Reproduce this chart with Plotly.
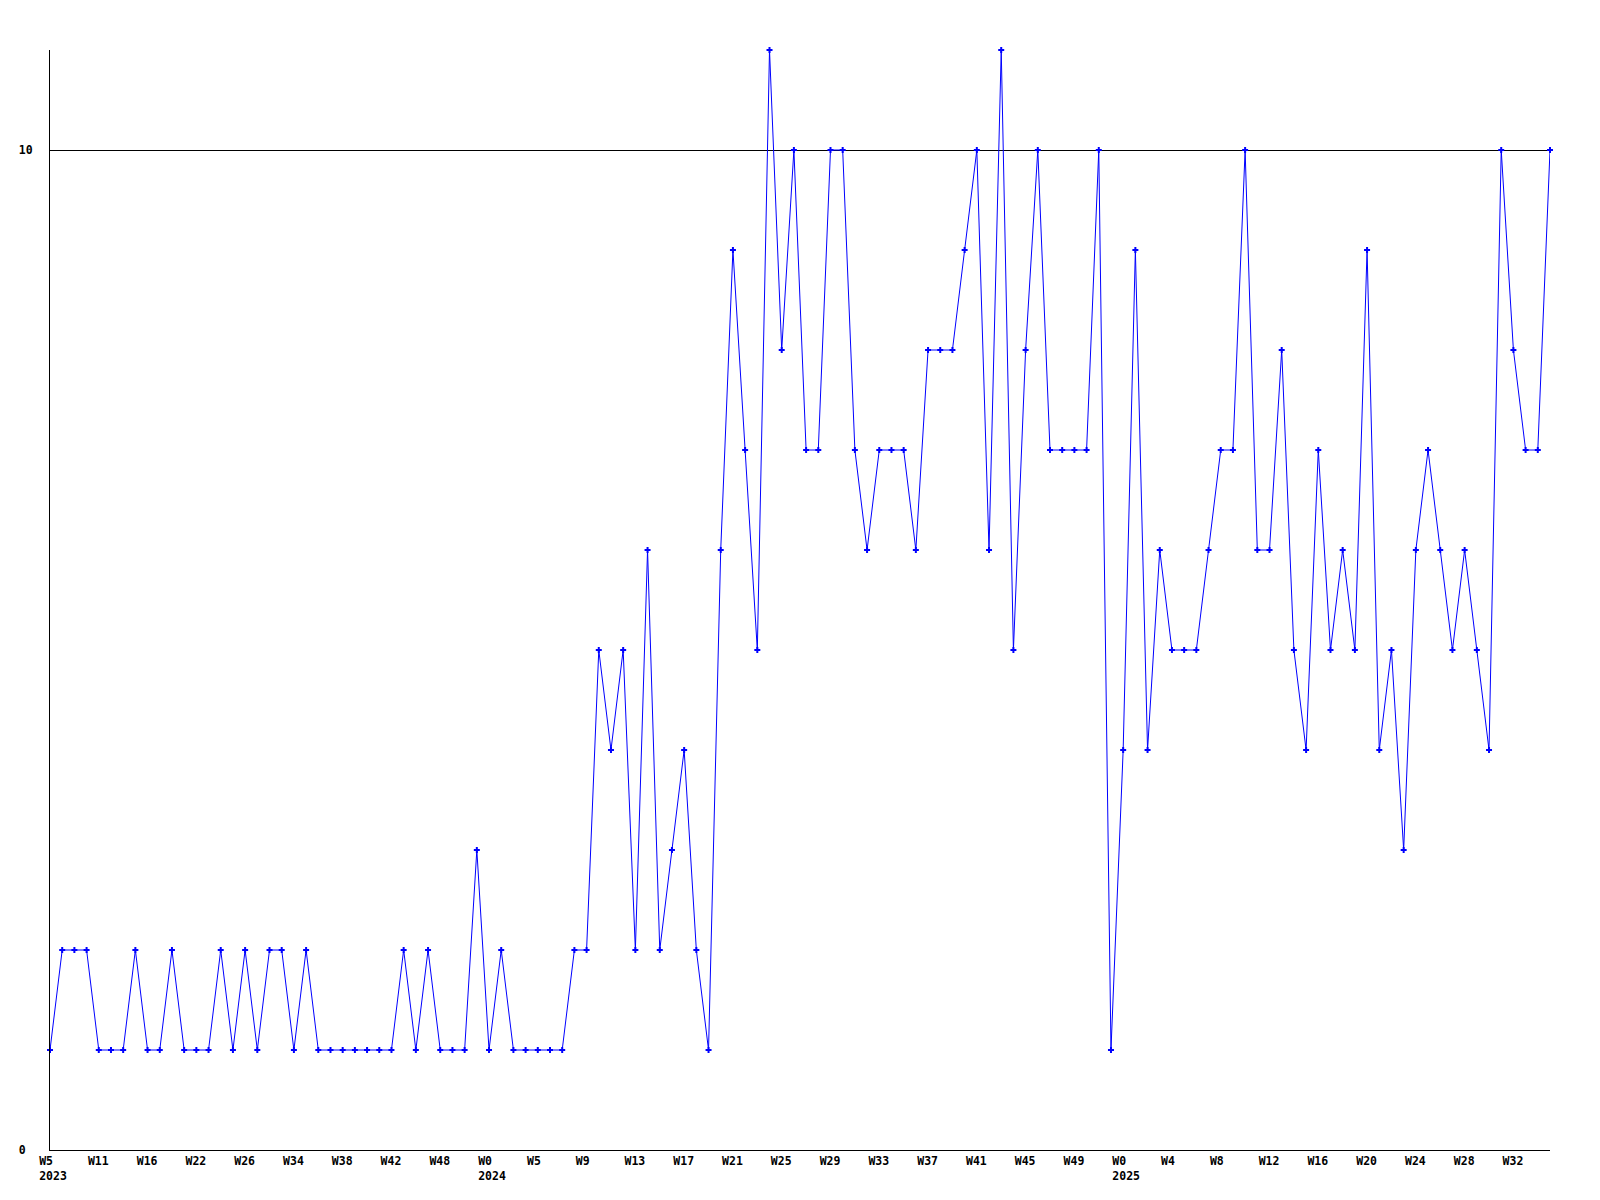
import plotly.graph_objects as go

# Weekly values, one per point (124 points)
values = [
    1, 2, 2, 2, 1, 1, 1, 2, 1, 1,
    2, 1, 1, 1, 2, 1, 2, 1, 2, 2,
    1, 2, 1, 1, 1, 1, 1, 1, 1, 2,
    1, 2, 1, 1, 1, 3, 1, 2, 1, 1,
    1, 1, 1, 2, 2, 5, 4, 5, 2, 6,
    2, 3, 4, 2, 1, 6, 9, 7, 5, 11,
    8, 10, 7, 7, 10, 10, 7, 6, 7, 7,
    7, 6, 8, 8, 8, 9, 10, 6, 11, 5,
    8, 10, 7, 7, 7, 7, 10, 1, 4, 9,
    4, 6, 5, 5, 5, 6, 7, 7, 10, 6,
    6, 8, 5, 4, 7, 5, 6, 5, 9, 4,
    5, 3, 6, 7, 6, 5, 6, 5, 4, 10,
    8, 7, 7, 10,
]
x_index = list(range(len(values)))

# X tick labels, one every 4th point (week label, year on the first week of a year)
week_labels = [
    "W5", "W11", "W16", "W22", "W26", "W34", "W38", "W42", "W48",
    "W0", "W5", "W9", "W13", "W17", "W21", "W25", "W29", "W33",
    "W37", "W41", "W45", "W49",
    "W0", "W4", "W8", "W12", "W16", "W20", "W24", "W28", "W32",
]
year_labels = {0: "2023", 9: "2024", 22: "2025"}
label_every = 4

y_tick_vals = [0, 10]
y_tick_text = ["0\u00a0", "10"]

font_family = "DejaVu Sans Mono"
font_size = 11.5

# Build left-aligned tick texts by padding to a fixed width (monospace font)
tick_pos = [x_index[i * label_every] for i in range(len(week_labels))]
tick_text = []
for i, w in enumerate(week_labels):
    t = w + "\u00a0" * (4 - len(w))
    if i in year_labels:
        t += "<br>" + year_labels[i]
    tick_text.append(t)

fig = go.Figure()
fig.add_trace(go.Scatter(
    x=x_index,
    y=values,
    mode="lines+markers",
    line=dict(color="#0000ff", width=1),
    marker=dict(symbol="cross", size=5, color="#0000ff", line=dict(width=0)),
    cliponaxis=False,
    hoverinfo="skip",
))

fig.update_layout(
    width=1584,
    height=1184,
    margin=dict(l=42, r=42, t=42, b=42, autoexpand=False),
    paper_bgcolor="white",
    plot_bgcolor="white",
    showlegend=False,
    font=dict(family=font_family, size=font_size, color="black", weight="bold"),
)

fig.update_xaxes(
    range=[0, 123],
    showline=True,
    linecolor="black",
    linewidth=1,
    showgrid=False,
    zeroline=False,
    ticks="",
    tickmode="array",
    tickvals=tick_pos,
    ticktext=tick_text,
    ticklabelshift=3,
    tickangle=0,
    tickfont=dict(family=font_family, size=font_size, color="black", weight="bold"),
)

fig.update_yaxes(
    range=[0, 11],
    showline=True,
    linecolor="black",
    linewidth=1,
    showgrid=True,
    gridcolor="black",
    gridwidth=1,
    zeroline=False,
    ticks="",
    tickmode="array",
    tickvals=y_tick_vals,
    ticktext=y_tick_text,
    ticklabelstandoff=14,
    tickfont=dict(family=font_family, size=font_size, color="black", weight="bold"),
)

fig.write_html("out.html")
